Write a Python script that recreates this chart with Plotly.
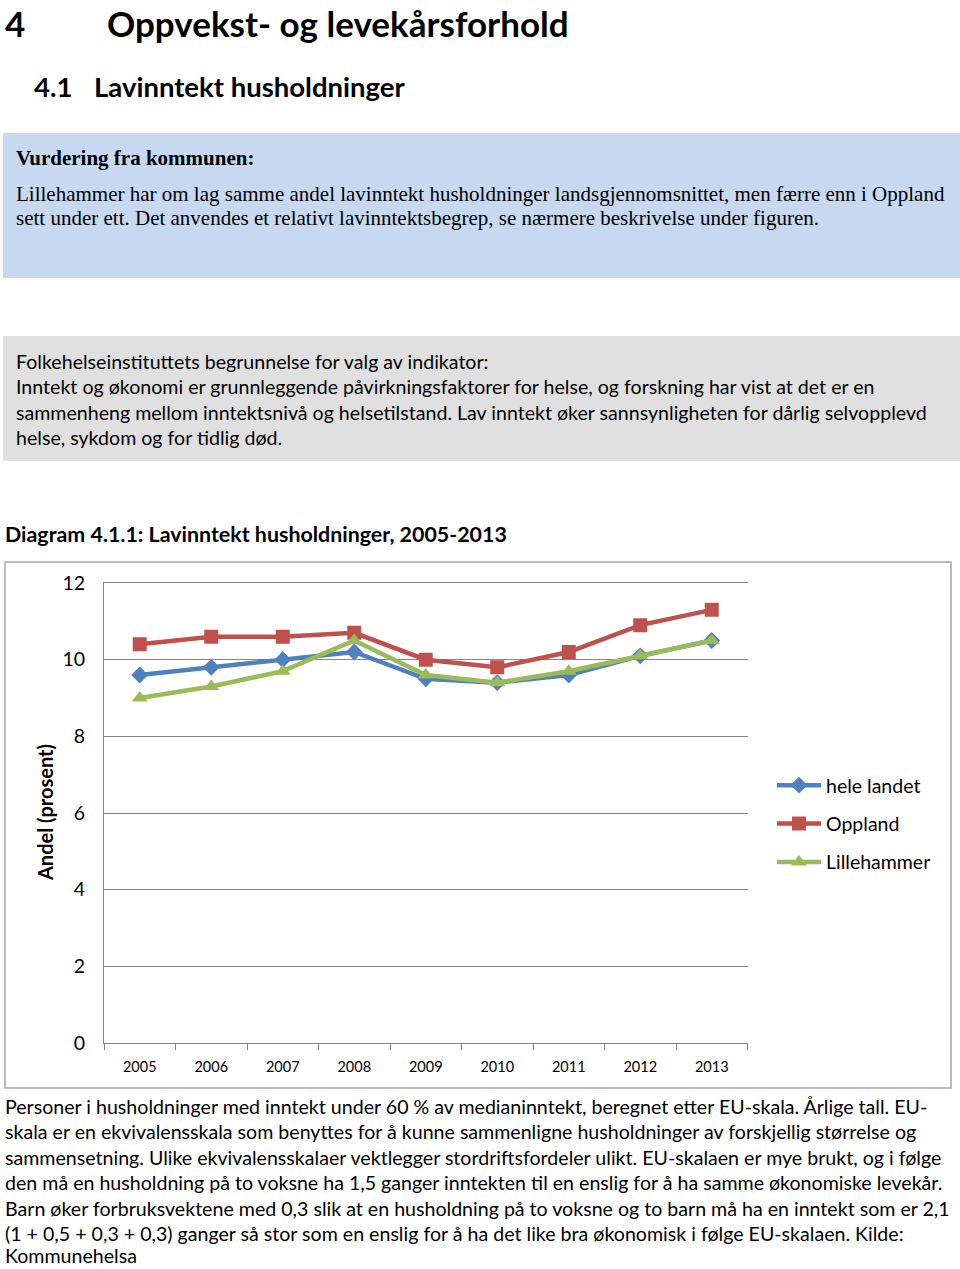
import plotly.graph_objects as go

W, H = 960, 1269

years = ["2005", "2006", "2007", "2008", "2009", "2010", "2011", "2012", "2013"]
hele_landet = [9.6, 9.8, 10.0, 10.2, 9.5, 9.4, 9.6, 10.1, 10.5]
oppland = [10.4, 10.6, 10.6, 10.7, 10.0, 9.8, 10.2, 10.9, 11.3]
lillehammer = [9.0, 9.3, 9.7, 10.5, 9.6, 9.4, 9.7, 10.1, 10.5]

heading = ["4", "Oppvekst- og levekårsforhold"]
subheading = ["4.1", "Lavinntekt husholdninger"]
vurdering_title = "Vurdering fra kommunen:"
vurdering_lines = [
    "Lillehammer har om lag samme andel lavinntekt husholdninger landsgjennomsnittet, men færre enn i Oppland",
    "sett under ett. Det anvendes et relativt lavinntektsbegrep, se nærmere beskrivelse under figuren.",
]
fhi_lines = [
    "Folkehelseinstituttets begrunnelse for valg av indikator:",
    "Inntekt og økonomi er grunnleggende påvirkningsfaktorer for helse, og forskning har vist at det er en",
    "sammenheng mellom inntektsnivå og helsetilstand. Lav inntekt øker sannsynligheten for dårlig selvopplevd",
    "helse, sykdom og for tidlig død.",
]
diagram_title = "Diagram 4.1.1: Lavinntekt husholdninger, 2005-2013"
note_lines = [
    "Personer i husholdninger med inntekt under 60 % av medianinntekt, beregnet etter EU-skala. Årlige tall. EU-",
    "skala er en ekvivalensskala som benyttes for å kunne sammenligne husholdninger av forskjellig størrelse og",
    "sammensetning. Ulike ekvivalensskalaer vektlegger stordriftsfordeler ulikt. EU-skalaen er mye brukt, og i følge",
    "den må en husholdning på to voksne ha 1,5 ganger inntekten til en enslig for å ha samme økonomiske levekår.",
    "Barn øker forbruksvektene med 0,3 slik at en husholdning på to voksne og to barn må ha en inntekt som er 2,1",
    "(1 + 0,5 + 0,3 + 0,3) ganger så stor som en enslig for å ha det like bra økonomisk i følge EU-skalaen. Kilde:",
    "Kommunehelsa",
]

SANS = "Lato"
SERIF = "Liberation Serif"


def px(x):
    return x / W


def py(y):
    return 1 - y / H


fig = go.Figure()
series = [
    ("hele landet", hele_landet, "#4F81BD", "diamond", 13),
    ("Oppland", oppland, "#C0504D", "square", 14),
    ("Lillehammer", lillehammer, "#9BBB59", "triangle-up", 14),
]
for name, vals, col, sym, sz in series:
    fig.add_trace(go.Scatter(
        x=years, y=vals, name=name, mode="lines+markers",
        line=dict(color=col, width=4.5),
        marker=dict(symbol=sym, size=sz, color=col),
        legendgroup=name,
    ))

ann = []


def text(x, y, s, size, family=SANS, bold=False, anchor="middle"):
    ann.append(dict(
        x=px(x), y=py(y), xref="paper", yref="paper", xanchor="left", yanchor=anchor,
        text=("<b>%s</b>" % s) if bold else s, showarrow=False,
        font=dict(family=family, size=size, color="#000000"),
    ))


text(3, 0, heading[0], 35, bold=True, anchor="top")
text(105, 0, heading[1], 35, bold=True, anchor="top")
text(32, 87, subheading[0], 27.5, bold=True)
text(92, 87, subheading[1], 27.5, bold=True)
text(14, 158, vurdering_title, 21, family=SERIF, bold=True)
for i, s in enumerate(vurdering_lines):
    text(14, 194 + 24 * i, s, 21, family=SERIF)
for i, s in enumerate(fhi_lines):
    text(14, 361 + 25.6 * i, s, 19.6)
text(3, 534, diagram_title, 21.4, bold=True)
for i, s in enumerate(note_lines[:-1]):
    text(3, 1106 + 25.5 * i, s, 19.6)
text(3, 1269, note_lines[-1], 19.6, anchor="bottom")

ann.append(dict(
    x=px(45), y=py(813), xref="paper", yref="paper", xanchor="center", yanchor="middle",
    text="<b>Andel (prosent)</b>", textangle=-90, showarrow=False,
    font=dict(family=SANS, size=20, color="#000000"),
))

shapes = [
    dict(type="rect", xref="paper", yref="paper", x0=px(3), x1=px(960), y0=py(133), y1=py(278),
         fillcolor="#C6D9F1", line=dict(width=0), layer="below"),
    dict(type="rect", xref="paper", yref="paper", x0=px(3), x1=px(960), y0=py(336), y1=py(461),
         fillcolor="#E0E0E0", line=dict(width=0), layer="below"),
    dict(type="rect", xref="paper", yref="paper", x0=px(5), x1=px(951), y0=py(562), y1=py(1088),
         fillcolor="rgba(0,0,0,0)", line=dict(color="#A6A6A6", width=1.5), layer="below"),
]

fig.update_layout(
    width=W, height=H,
    margin=dict(l=0, r=0, t=0, b=0, autoexpand=False),
    paper_bgcolor="white", plot_bgcolor="white",
    annotations=ann, shapes=shapes,
    xaxis=dict(
        domain=[px(104), px(747.5)], type="category", automargin=False,
        range=[-0.5, len(years) - 0.5],
        showgrid=False, showline=True, mirror=True, linecolor="#868686", linewidth=1,
        ticks="outside", tickson="boundaries", ticklen=6, tickcolor="#868686",
        ticklabelstandoff=11,
        tickfont=dict(family=SANS, size=14.5, color="#000000"),
        zeroline=False,
    ),
    yaxis=dict(
        domain=[py(1043), py(583)], range=[0, 12], dtick=2, automargin=False,
        showgrid=True, gridcolor="#868686", gridwidth=1,
        showline=True, linecolor="#868686", linewidth=1,
        ticks="", ticklabelstandoff=14,
        tickfont=dict(family=SANS, size=19.5, color="#000000"),
        zeroline=False,
    ),
    legend=dict(
        x=px(772), y=py(766), xanchor="left", yanchor="top",
        font=dict(family=SANS, size=19.5, color="#000000"),
        tracegroupgap=10, itemwidth=44, bgcolor="rgba(0,0,0,0)",
    ),
    showlegend=True,
)

fig.write_html(
    "out.html",
    config={"displayModeBar": False},
    post_script="document.body.style.margin='0';document.body.style.padding='0';"
                "document.body.style.overflow='hidden';",
)
